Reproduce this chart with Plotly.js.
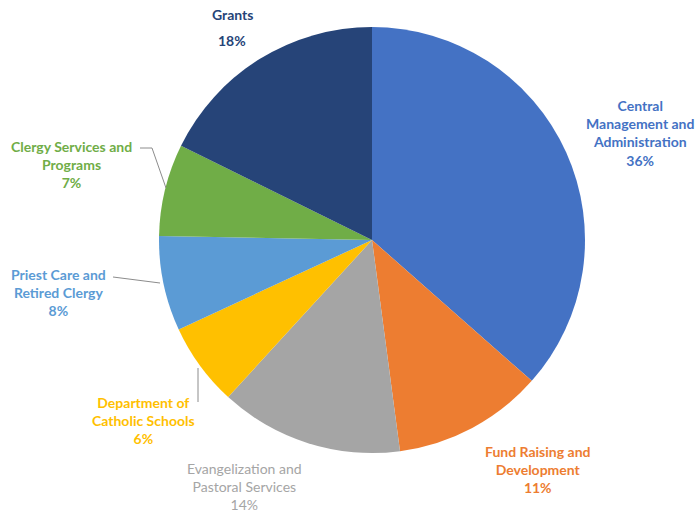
<!DOCTYPE html>
<html>
<head>
<meta charset="utf-8">
<script src="https://cdn.plot.ly/plotly-3.0.1.min.js"></script>
<style>html,body{margin:0;padding:0;background:#fff;}#chart{width:696px;height:516px;}</style>
</head>
<body>
<div id="chart"></div>
<script>
// Data
const categories = [
  "Central<br>Management and<br>Administration",
  "Fund Raising and<br>Development",
  "Evangelization and<br>Pastoral Services",
  "Department of<br>Catholic Schools",
  "Priest Care and<br>Retired Clergy",
  "Clergy Services and<br>Programs",
  "Grants"
];
// slice sizes
const values = [36.5, 11.4, 13.9, 6.3, 7.2, 7.0, 17.7];
// percentage labels as printed on the chart
const percentLabels = ["36%", "11%", "14%", "6%", "8%", "7%", "18%"];
const colors = ["#4472C4", "#ED7D31", "#A5A5A5", "#FFC000", "#5B9BD5", "#70AD47", "#264478"];
const bold = [true, true, false, true, true, true, true];

// Label placement (pixel positions of label block centres)
const W = 696, H = 516;
const labelPos = [
  [640, 133], [538, 469], [244, 486], [143, 420], [58, 292], [71, 164], [232, 14]
];

const cx = 372, cy = 240, r = 213;

const trace = {
  type: "pie",
  labels: categories.map(c => c.replace(/<br>/g, " ")),
  values: values,
  marker: { colors: colors, line: { width: 0 } },
  sort: false,
  direction: "clockwise",
  rotation: 0,
  textinfo: "none",
  hoverinfo: "label+percent",
  showlegend: false,
  domain: { x: [(cx - r) / W, (cx + r) / W], y: [1 - (cy + r) / H, 1 - (cy - r) / H] }
};

const fontFam = "Lato, 'Open Sans', sans-serif";
const annotations = categories.map((c, i) => {
  const txt = (i === 6) ? c : c + "<br>" + percentLabels[i];
  const t = bold[i] ? "<b>" + txt + "</b>" : txt;
  return {
    xref: "paper", yref: "paper",
    x: labelPos[i][0] / W, y: 1 - labelPos[i][1] / H,
    xanchor: "center", yanchor: "middle",
    text: t, showarrow: false, align: "center",
    font: { family: fontFam, size: 14, color: colors[i] }
  };
});
// Grants percentage on its own line, spaced apart
annotations.push({
  xref: "paper", yref: "paper", x: 232 / W, y: 1 - 40 / H,
  xanchor: "center", yanchor: "middle", showarrow: false,
  text: "<b>" + percentLabels[6] + "</b>",
  font: { family: fontFam, size: 14, color: colors[6] }
});

function px(x) { return x / W; }
function py(y) { return 1 - y / H; }
const lineStyle = { color: "#8c8c8c", width: 1 };
const shapes = [
  { type: "path", xref: "paper", yref: "paper", line: lineStyle,
    path: `M ${px(140)} ${py(148)} L ${px(152)} ${py(148)} L ${px(166)} ${py(188)}` },
  { type: "path", xref: "paper", yref: "paper", line: lineStyle,
    path: `M ${px(113)} ${py(277)} L ${px(160)} ${py(283)}` },
  { type: "path", xref: "paper", yref: "paper", line: lineStyle,
    path: `M ${px(198)} ${py(368)} L ${px(198)} ${py(402)}` }
];

const layout = {
  width: W, height: H,
  margin: { l: 0, r: 0, t: 0, b: 0 },
  paper_bgcolor: "#ffffff",
  plot_bgcolor: "#ffffff",
  annotations: annotations,
  shapes: shapes
};

Plotly.newPlot("chart", [trace], layout, { displayModeBar: false, staticPlot: true });
</script>
</body>
</html>
